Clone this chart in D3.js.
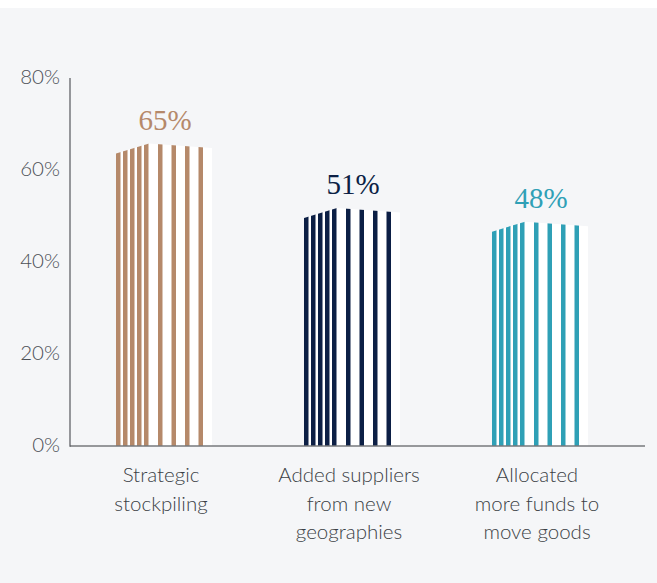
<!DOCTYPE html>
<html>
<head>
<meta charset="utf-8">
<script src="https://cdn.jsdelivr.net/npm/d3@7"></script>
<style>
  html, body { margin: 0; padding: 0; background: #ffffff; }
  svg { display: block; }
</style>
</head>
<body>
<div id="chart"></div>
<script>
// Survey responses: share of firms taking each supply-chain action
const categories = ["Strategic stockpiling", "Added suppliers from new geographies", "Allocated more funds to move goods"];
const categoryLines = [
  ["Strategic", "stockpiling"],
  ["Added suppliers", "from new", "geographies"],
  ["Allocated", "more funds to", "move goods"]
];
const values = [65, 51, 48];
const valueLabels = ["65%", "51%", "48%"];
const barColors = ["#b5896a", "#0c1f45", "#2fa0b6"];
const yTicks = [0, 20, 40, 60, 80];
const yTickLabels = ["0%", "20%", "40%", "60%", "80%"];

const W = 657, H = 583;
const svg = d3.select("#chart").append("svg")
  .attr("width", W).attr("height", H);

// panel background
svg.append("rect").attr("x", 0).attr("y", 8).attr("width", W).attr("height", H - 8)
  .attr("fill", "#f5f6f8");

const y = d3.scaleLinear().domain([0, 80]).range([446, 78]);
const x = d3.scaleBand().domain(categories).range([67, 631]).padding(0);

const axisX = 70;
const sansFont = "Lato, 'Open Sans', sans-serif";

// y-axis tick labels
svg.append("g").selectAll("text").data(yTicks).join("text")
  .attr("x", 60)
  .attr("y", d => y(d) - 2.5)
  .attr("text-anchor", "end")
  .attr("dominant-baseline", "central")
  .attr("font-family", sansFont)
  .attr("font-weight", 300)
  .attr("font-size", 20.5)
  .attr("fill", "#4c5056")
  .text((d, i) => yTickLabels[i]);

// striped bars: white backing with a bowed top, vertical colour stripes on it
const barW = 96;
const stripeW = 4.5;
const stripeOffsets = [0, 7, 14, 21, 28, 42, 55.5, 69, 82.5];
const peakOffset = 33;
const defs = svg.append("defs");

categories.forEach((c, i) => {
  const cx = x(c) + x.bandwidth() / 2;
  const x0 = cx - 45;
  const x1 = x0 + barW;
  const yv = y(values[i]);
  const y0 = y(0);
  const outline = [
    [x0, yv + 6.5], [x0 + peakOffset, yv - 3.5], [x1, yv + 1], [x1, y0], [x0, y0]
  ];
  const clipId = "bar-clip-" + i;
  defs.append("clipPath").attr("id", clipId)
    .append("polygon").attr("points", outline.map(p => p.join(",")).join(" "));

  const g = svg.append("g").attr("clip-path", `url(#${clipId})`);
  g.append("rect").attr("x", x0).attr("y", yv - 10).attr("width", barW)
    .attr("height", y0 - yv + 10).attr("fill", "#ffffff");
  g.selectAll("rect.stripe").data(stripeOffsets).join("rect")
    .attr("class", "stripe")
    .attr("x", d => x0 + d)
    .attr("y", yv - 10)
    .attr("width", stripeW)
    .attr("height", y0 - yv + 10)
    .attr("fill", barColors[i]);

  // value label
  svg.append("text")
    .attr("x", cx + 4)
    .attr("y", yv - 17)
    .attr("text-anchor", "middle")
    .attr("font-family", "'Liberation Serif', 'DejaVu Serif', serif")
    .attr("font-size", 29)
    .attr("fill", barColors[i])
    .text(valueLabels[i]);

  // category label
  const t = svg.append("text")
    .attr("text-anchor", "middle")
    .attr("font-family", sansFont)
    .attr("font-weight", 300)
    .attr("font-size", 20.5)
    .attr("fill", "#3b3f45");
  categoryLines[i].forEach((line, k) => {
    t.append("tspan").attr("x", cx).attr("y", 482 + k * 28.5).text(line);
  });
});

// axis lines
svg.append("line").attr("x1", axisX).attr("x2", 645)
  .attr("y1", y(0)).attr("y2", y(0))
  .attr("stroke", "#76787c").attr("stroke-width", 1.5);
svg.append("line").attr("x1", axisX).attr("x2", axisX)
  .attr("y1", y(80)).attr("y2", y(0) + 0.75)
  .attr("stroke", "#55585d").attr("stroke-width", 1.2);
</script>
</body>
</html>
